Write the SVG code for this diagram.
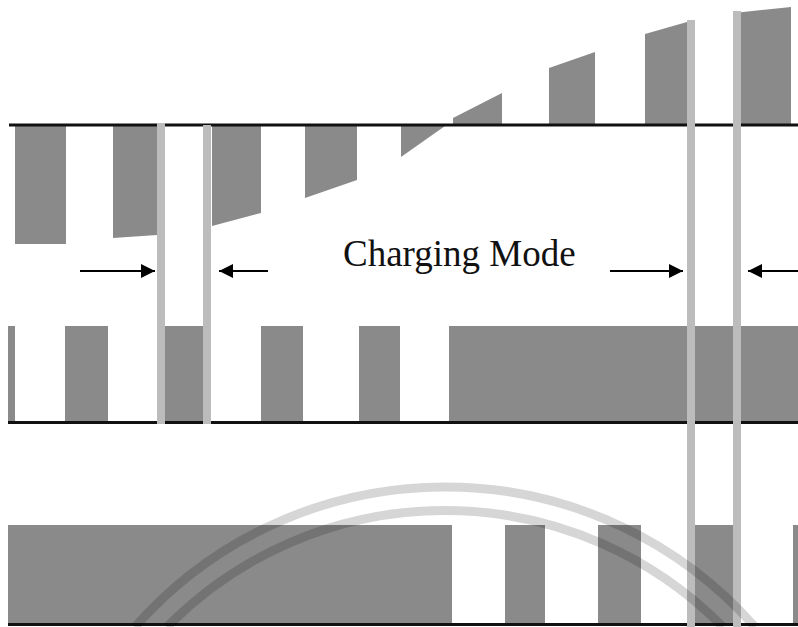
<svg xmlns="http://www.w3.org/2000/svg" width="798" height="627" viewBox="0 0 798 627">
<style>
.blk{fill:#8a8a8a}
.bar{fill:#bcbcbc}
.axis{stroke:#111;stroke-width:3;fill:none}
.arr{stroke:#000;stroke-width:2;fill:none}
.wm{stroke:#000;stroke-opacity:0.16;stroke-width:9;fill:none}
.lbl{font-family:"Liberation Serif","Times New Roman",serif;font-size:37px;fill:#111}
</style>
<defs>
<marker id="ahb" viewBox="0 0 10 10" refX="10" refY="5" markerWidth="17" markerHeight="14" markerUnits="userSpaceOnUse" orient="auto">
<path d="M0,0 L10,5 L0,10 z" fill="#000"/>
</marker>
</defs>
<rect width="798" height="627" fill="#fff"/>
<g id="row1">
<rect class="blk" x="15" y="126" width="51" height="118"/>
<polygon class="blk" points="113,126 157,126 157,235 113,238"/>
<polygon class="blk" points="212,126 261,126 261,213 212,226"/>
<polygon class="blk" points="305,126 357,126 357,180 305,198"/>
<polygon class="blk" points="401,126 445,126 401,157"/>
<polygon class="blk" points="453,124 453,118 502,93 502,124"/>
<polygon class="blk" points="549,124 549,68 595,52 595,124"/>
<polygon class="blk" points="645,124 645,34 687,22 687,124"/>
<polygon class="blk" points="734,124 734,13 791,7 791,124"/>
<line class="axis" x1="9" y1="125" x2="798" y2="125"/>
</g>
<g id="row2">
<rect class="blk" x="8" y="326" width="7" height="95"/>
<rect class="blk" x="65" y="326" width="43" height="95"/>
<rect class="blk" x="165" y="326" width="38" height="95"/>
<rect class="blk" x="261" y="326" width="42" height="95"/>
<rect class="blk" x="359" y="326" width="41" height="95"/>
<rect class="blk" x="449" y="326" width="349" height="95"/>
<line class="axis" x1="8" y1="422.5" x2="798" y2="422.5"/>
</g>
<g id="row3">
<rect class="blk" x="8" y="525" width="444" height="99"/>
<rect class="blk" x="505" y="525" width="40" height="99"/>
<rect class="blk" x="598" y="525" width="43" height="99"/>
<rect class="blk" x="687" y="525" width="52" height="99"/>
<rect class="blk" x="793" y="525" width="5" height="99"/>
<line class="axis" x1="8" y1="624.5" x2="798" y2="624.5"/>
</g>
<g id="markers">
<rect class="bar" x="157" y="123" width="8" height="301"/>
<rect class="bar" x="203" y="125" width="8" height="299"/>
<rect class="bar" x="687" y="20" width="8" height="607"/>
<rect class="bar" x="733" y="11" width="8" height="616"/>
</g>
<g id="connectors">
<line class="arr" x1="80" y1="271" x2="155" y2="271" marker-end="url(#ahb)"/>
<line class="arr" x1="268" y1="271" x2="219" y2="271" marker-end="url(#ahb)"/>
<line class="arr" x1="610" y1="271" x2="683" y2="271" marker-end="url(#ahb)"/>
<line class="arr" x1="798" y1="271" x2="748" y2="271" marker-end="url(#ahb)"/>
</g>
<g id="label">
<text class="lbl" x="343" y="266">Charging Mode</text>
</g>
<g id="watermark">
<path class="wm" d="M135,627 A413,413 0 0 1 755,627"/>
<path class="wm" d="M167,627 A390,390 0 0 1 723,627"/>
</g>
</svg>
